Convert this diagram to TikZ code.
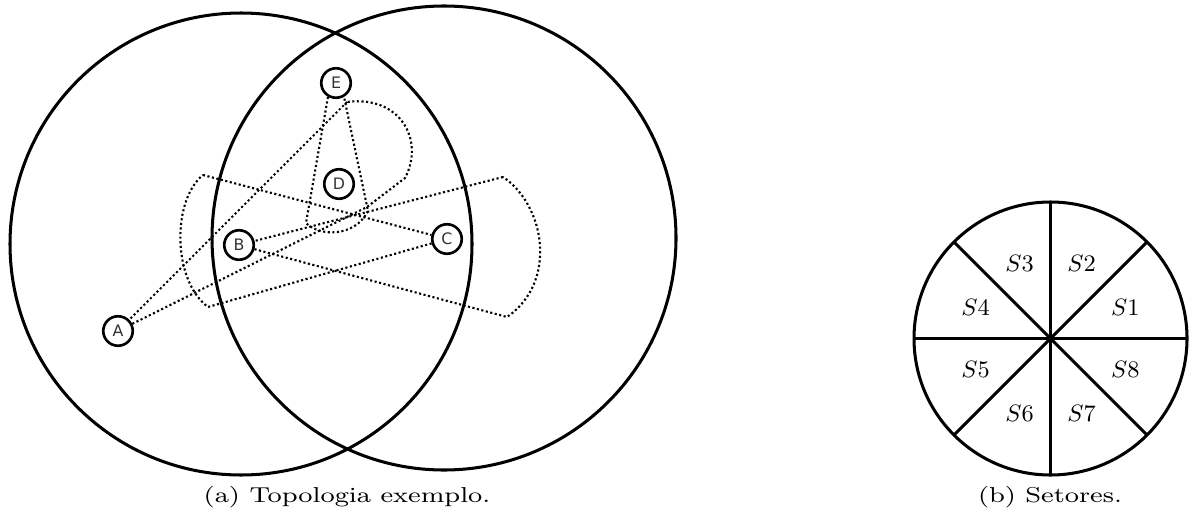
\documentclass[tikz,border=0pt]{standalone}
\usepackage{fontspec}
\usepackage{tikz}
\usetikzlibrary{positioning,calc}
\newfontfamily\stationfont{DejaVu Sans}
\newcommand{\widecap}[1]{\scalebox{1.24}[1]{#1}}
\tikzset{
  coverage/.style={black,line width=1.15pt},
  beam/.style={black,line width=0.8pt,dash pattern=on 0.8pt off 0.95pt},
  station/.style={circle,draw=black,line width=1pt,fill=white,minimum size=11.2pt,inner sep=0pt,text=black!80,font=\stationfont\fontsize{6}{7}\selectfont},
  spoke/.style={black,line width=1.15pt},
  sectorlabel/.style={font=\small},
  caption/.style={font=\fontsize{8.2}{10}\selectfont}
}

\begin{document}
\begin{tikzpicture}[x=0.38pt,y=-0.38pt]
\useasboundingbox (0,0) rectangle (1192,515);
% (a) topologia
\draw[coverage] (241,244) circle [radius=231];
\draw[coverage] (444,238) circle [radius=232];
\node[station] (A) at (118,331) {A};
\node[station] (B) at (239,245) {B};
\node[station] (C) at (447,239) {C};
\node[station] (D) at (339,184) {D};
\node[station] (E) at (336,83) {E};
\coordinate (a1) at (347,102);
\coordinate (a2) at (367,207);
\coordinate (a3) at (405,178);
\coordinate (b1) at (503,177);
\coordinate (b2) at (507,317);
\coordinate (c1) at (203,175);
\coordinate (c2) at (208,307);
\coordinate (e1) at (306,223);
\coordinate (e2) at (368,211);
\draw[beam] (a1) -- (A) -- (a2) -- (a3) .. controls (425,140) and (400,95) .. (a1);
\draw[beam] (b1) -- (B) -- (b2) .. controls (558,282) and (545,205) .. (b1);
\draw[beam] (c1) -- (C) -- (c2) .. controls (172,280) and (172,200) .. (c1);
\draw[beam] (E.240) -- (e1) .. controls (320,237) and (355,237) .. (e2) -- (E.300);
\node[caption] (capa) at (347,497) {\widecap{(a) Topologia exemplo.}};
% (b) setores
\begin{scope}[shift={(1050.5,338.5)}]
\draw[spoke] (0,0) circle [radius=136.5];
\foreach \a in {0,45,90,135}{\draw[spoke] (\a:136.5) -- (\a+180:136.5);}
\foreach \k in {1,...,8}{\node[sectorlabel] (s\k) at ({22.5-45*\k}:81) {$S\k$};}
\end{scope}
\node[caption] (capb) at (1050,497) {\widecap{(b) Setores.}};
\end{tikzpicture}
\end{document}
